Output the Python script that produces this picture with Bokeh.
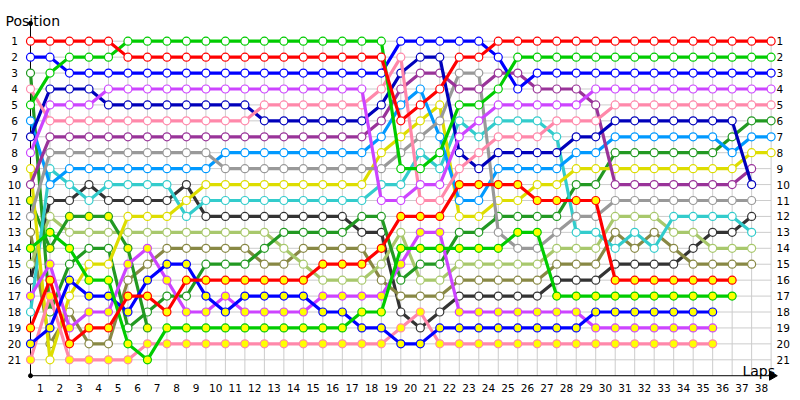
from bokeh.plotting import figure
from bokeh.models import Range1d
from bokeh.embed import file_html
from bokeh.resources import INLINE
from bokeh.core.properties import value

# ---- data: position at each lap (index 0 = grid) ----
lap_labels = [str(i) for i in range(1, 39)]
position_labels = [str(i) for i in range(1, 22)]

red_a    = [1,1,1,1,1, 2,2,2,2,2, 2,2,2,2,2, 2,2,2,2,6, 5,4,2,2,1, 1,1,1,1,1, 1,1,1,1,1, 1,1,1,1]
green_a  = [5,3,2,2,2, 1,1,1,1,1, 1,1,1,1,1, 1,1,1,1,9, 9,8,5,5,4, 2,2,2,2,2, 2,2,2,2,2, 2,2,2,2]
blue_a   = [2,2,3,3,3, 3,3,3,3,3, 3,3,3,3,3, 3,3,3,3,1, 1,1,1,1,2, 4,3,3,3,3, 3,3,3,3,3, 3,3,3,3]
violet_a = [8,5,5,5,4, 4,4,4,4,4, 4,4,4,4,4, 4,4,4,11,11, 10,10,7,6,5, 5,5,5,5,4, 4,4,4,4,4, 4,4,4,4]
pink_a   = [4,6,6,6,6, 6,6,6,6,6, 6,6,5,5,5, 5,5,5,4,2, 11,11,9,8,7, 7,7,6,6,6, 5,5,5,5,5, 5,5,5,5]
navy     = [7,4,4,4,5, 5,5,5,5,5, 5,5,6,6,6, 6,6,6,5,3, 2,2,8,9,8, 8,8,8,7,7, 6,6,6,6,6, 6,6,10]
plum     = [10,7,7,7,7, 7,7,7,7,7, 7,7,7,7,7, 7,7,7,6,4, 3,3,4,4,3, 3,4,4,4,5, 10,10,10,10,10, 10,10,9]
grey     = [12,8,8,8,8, 8,8,8,8,8, 9,9,9,9,9, 9,9,9,9,8, 7,6,3,3,13, 14,14,13,12,12, 11,11,11,11,11, 11,11,11]
sky      = [6,10,9,9,9, 9,9,9,9,9, 8,8,8,8,8, 8,8,8,7,5, 4,7,11,11,9, 9,9,9,8,8, 7,7,7,7,7, 7,8,7,7]
yellow   = [9,21,17,15,15, 12,12,12,11,10, 10,10,10,10,10, 10,10,10,8,7, 6,5,12,12,11, 11,10,10,9,9, 9,9,9,9,9, 9,9,8,8]
cyan     = [18,9,10,11,10, 10,10,10,12,11, 11,11,11,11,11, 11,11,11,10,10, 8,9,6,7,6, 6,6,7,13,13, 14,13,14,12,12, 12,12,13]
black    = [16,11,11,10,11, 11,11,11,10,12, 12,12,12,12,12, 12,12,13,13,18, 19,18,17,17,17, 17,17,16,16,16, 15,15,15,15,14, 13,13,12]
dgreen_a = [3,18,15,14,14, 19,18,17,17,15, 15,15,14,13,13, 13,13,12,12,16, 15,15,13,13,12, 12,12,12,10,10, 8,8,8,8,8, 8,7,6,6]
dgreen_b = [11,14,12,12,12, 14,19]
lime     = [15,12,13,13,13, 13,13,13,13,13, 13,13,13,14,15, 16,16,16,15,13, 16,16,15,15,15, 15,15,14,14,14, 12,12,12,13,13, 14,14,14]
olive    = [13,20,18,20,20, 16,15,14,14,14, 14,14,15,15,14, 14,14,14,16,17, 17,17,16,16,16, 16,16,15,15,15, 13,14,13,14,15, 15,15,15]
red_b    = [19,16,20,19,19, 17,17,18,16,16, 16,16,16,16,16, 15,15,15,14,12, 12,12,10,10,10, 10,11,11,11,11, 16,16,16,16,16, 16,16]
green_b  = [14,13,14,16,16, 20,21,19,19,19, 19,19,19,19,19, 19,19,18,18,14, 14,14,14,14,14, 13,13,17,17,17, 17,17,17,17,17, 17,17]
blue_b   = [20,19,16,17,17, 18,16,15,15,17, 18,17,17,17,17, 18,18,19,19,20, 20,19,19,19,19, 19,19,19,19,18, 18,18,18,18,18, 18]
violet_b = [17,15,19,18,18, 15,14,16,18,18, 17,18,18,18,18, 17,17,17,17,15, 13,13,18,18,18, 18,18,18,18,19, 19,19,19,19,19, 19]
pink_b   = [21,17,21,21,21, 21,20,20,20,20, 20,20,20,20,20, 20,20,20,20,19, 18,20,20,20,20, 20,20,20,20,20, 20,20,20,20,20, 20]

series = [
    (black, "#333333", "white"),
    (olive, "#888844", "white"),
    (lime, "#a8c86c", "white"),
    (dgreen_a, "#229922", "white"),
    (dgreen_b, "#229922", "#ffff00"),
    (cyan, "#33cccc", "white"),
    (yellow, "#dddd00", "white"),
    (sky, "#0099ff", "white"),
    (grey, "#999999", "white"),
    (plum, "#993399", "white"),
    (navy, "#0000bb", "white"),
    (pink_b, "#ff88aa", "#ffff00"),
    (violet_b, "#cc44ff", "#ffff00"),
    (blue_b, "#0000ff", "#ffff00"),
    (green_b, "#00cc00", "#ffff00"),
    (red_b, "#ff0000", "#ffff00"),
    (pink_a, "#ff88aa", "white"),
    (violet_a, "#cc44ff", "white"),
    (blue_a, "#0000ff", "white"),
    (green_a, "#00cc00", "white"),
    (red_a, "#ff0000", "white"),
]

W, H = 800, 400
p = figure(width=W, height=H, output_backend="svg", toolbar_location=None,
           x_range=Range1d(-1.539, 39.507), y_range=Range1d(23.555, -1.555),
           min_border=0, x_axis_type=None, y_axis_type=None)
p.outline_line_color = None
p.xgrid.visible = False
p.ygrid.visible = False
p.background_fill_color = "white"

n_laps = len(lap_labels)
n_pos = len(position_labels)
grid_col = "#cccccc"
# vertical grid
p.segment(x0=list(range(0, n_laps + 1)), y0=[0.72] * (n_laps + 1),
          x1=list(range(0, n_laps + 1)), y1=[n_pos + 1] * (n_laps + 1),
          line_color=grid_col, line_width=1)
# horizontal grid
p.segment(x0=[0] * n_pos, y0=list(range(1, n_pos + 1)),
          x1=[n_laps] * n_pos, y1=list(range(1, n_pos + 1)),
          line_color=grid_col, line_width=1)

# axes
p.segment(x0=[0], y0=[-0.12], x1=[0], y1=[n_pos + 1], line_color="black", line_width=1)
p.segment(x0=[0], y0=[n_pos + 1], x1=[n_laps + 0.2], y1=[n_pos + 1], line_color="black", line_width=1)
p.scatter(x=[0, 0], y=[-0.12, n_pos + 1], size=4, color="black")
p.scatter(x=[n_laps + 0.05], y=[n_pos + 1], marker="triangle", angle=-1.5708,
          size=9, color="black")

# tick labels
p.text(x=[-0.82] * n_pos, y=list(range(1, n_pos + 1)), text=position_labels,
       text_font=value("DejaVu Sans"), text_font_size="10.5px",
       text_align="center", text_baseline="middle", text_color="black")
p.text(x=[n_laps + 0.28] * n_pos, y=list(range(1, n_pos + 1)), text=position_labels,
       text_font=value("DejaVu Sans"), text_font_size="10.5px",
       text_align="left", text_baseline="middle", text_color="black")
p.text(x=[i - 0.5 for i in range(1, n_laps + 1)], y=[n_pos + 1.8] * n_laps, text=lap_labels,
       text_font=value("DejaVu Sans"), text_font_size="10.5px",
       text_align="center", text_baseline="middle", text_color="black")
p.text(x=[-1.28], y=[-0.25], text=["Position"], text_font=value("DejaVu Sans"),
       text_font_size="14px", text_align="left", text_baseline="alphabetic")
p.text(x=[38.2], y=[21.7], text=["Laps"], text_font=value("DejaVu Sans"),
       text_font_size="14px", text_align="right", text_baseline="alphabetic")

for data, col, fill in series:
    xs = list(range(len(data)))
    p.line(xs, data, line_color=col, line_width=3.2, line_join="round")
    p.scatter(xs, data, size=8, line_color=col, line_width=1.2, fill_color=fill)

open("out.html", "w").write(file_html(p, INLINE))
